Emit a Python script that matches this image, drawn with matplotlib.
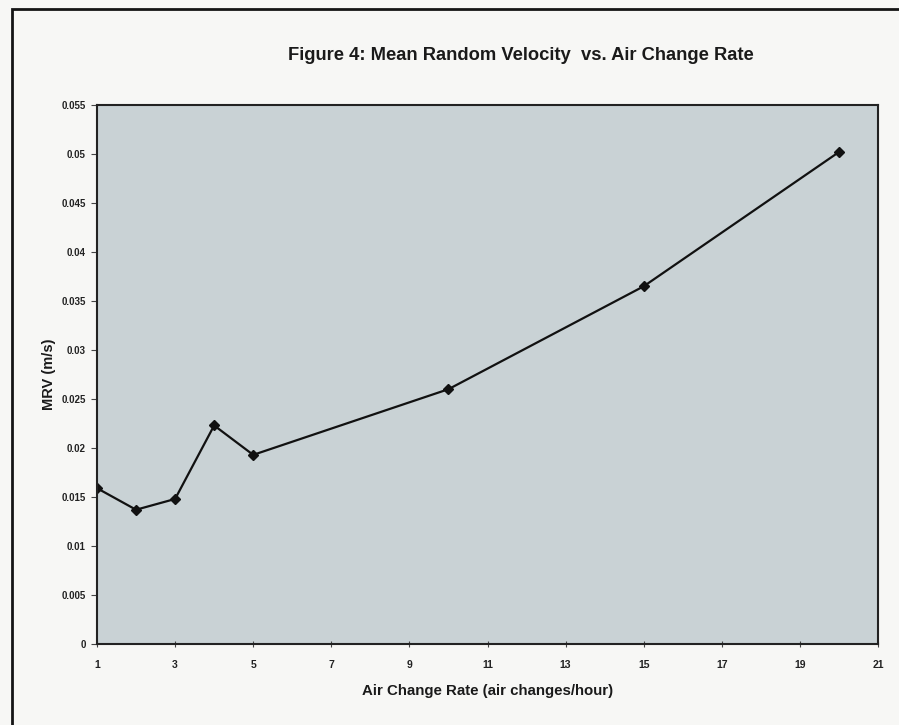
import matplotlib
matplotlib.use('Agg')
import matplotlib.pyplot as plt
from matplotlib.patches import Rectangle

#data
airChanges = [1, 2, 3, 4, 5, 10, 15, 20]
mrv = [0.0159, 0.0137, 0.0148, 0.0223, 0.0193, 0.0260, 0.0365, 0.0502]

xTicks = [1, 3, 5, 7, 9, 11, 13, 15, 17, 19, 21]
yTicks = [0, 0.005, 0.01, 0.015, 0.02, 0.025, 0.03, 0.035, 0.04, 0.045, 0.05, 0.055]
yTickLabels = ['0', '0.005', '0.01', '0.015', '0.02', '0.025', '0.03', '0.035',
               '0.04', '0.045', '0.05', '0.055']

plt.rcParams['font.family'] = ['Liberation Sans', 'DejaVu Sans']

W, H = 899, 725
fig = plt.figure(figsize=(W / 100, H / 100), dpi=100)
fig.patch.set_facecolor('#f7f7f5')

#outer chart frame (cropped on right and bottom in the scan)
fig.patches.append(Rectangle((12 / W, -0.05), 1.2, 1 - 9 / H + 0.05,
                             transform=fig.transFigure, fill=False,
                             edgecolor='#151515', linewidth=2))

#plot area
ax = fig.add_axes([97 / W, 1 - 644 / H, (878 - 97) / W, (644 - 105) / H])
ax.set_facecolor('#c9d2d5')
ax.plot(airChanges, mrv, color='#111111', linewidth=1.6,
        marker='D', markersize=5, markerfacecolor='#111111',
        markeredgecolor='#111111')

ax.set_xlim(1, 21)
ax.set_ylim(0, 0.055)
ax.set_xticks(xTicks)
ax.set_yticks(yTicks)
ax.set_yticklabels(yTickLabels)

for s in ax.spines.values():
    s.set_color('#222222')
    s.set_linewidth(1.5)

ax.tick_params(axis='x', direction='inout', length=5, width=0.8,
               color='#444444', pad=9, labelsize=7.5)
ax.tick_params(axis='y', direction='out', length=4, width=0.8,
               color='#444444', pad=4, labelsize=7)
for lab in ax.get_xticklabels() + ax.get_yticklabels():
    lab.set_fontweight('bold')
    lab.set_color('#222222')

ax.set_xlabel('Air Change Rate (air changes/hour)', fontsize=10.8,
              fontweight='bold', color='#1a1a1a', labelpad=10)
ax.set_ylabel('MRV (m/s)', fontsize=10.5, fontweight='bold',
              color='#1a1a1a', labelpad=4)

fig.text(521 / W, 1 - 55 / H,
         'Figure 4: Mean Random Velocity  vs. Air Change Rate',
         ha='center', va='center', fontsize=13.2, fontweight='bold',
         color='#1a1a1a')

fig.savefig('out.png', dpi=100, facecolor=fig.get_facecolor())
